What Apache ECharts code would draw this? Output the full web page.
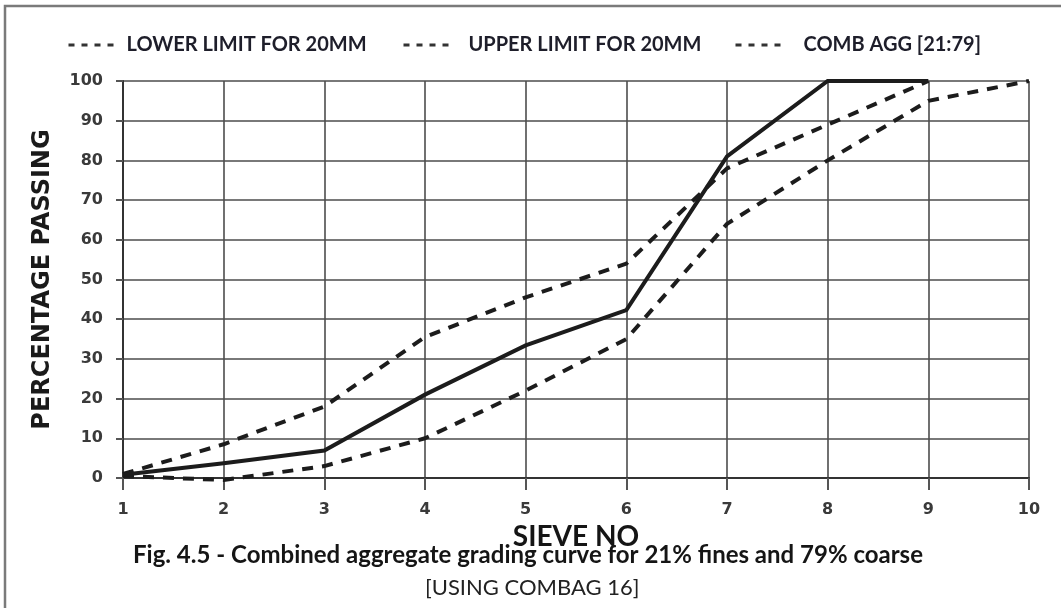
<!DOCTYPE html>
<html>
<head>
<meta charset="utf-8">
<title>Combined aggregate grading curve</title>
<script src="https://cdn.jsdelivr.net/npm/echarts@6/dist/echarts.min.js"></script>
<style>
  html, body { margin: 0; padding: 0; background: #ffffff; }
  #chart { width: 1061px; height: 608px; }
</style>
</head>
<body>
<div id="chart"></div>
<script>
// Sieve numbers along the x axis
const sieveNo = [1, 2, 3, 4, 5, 6, 7, 8, 9, 10];
// Percentage passing, lower grading limit for 20 mm aggregate
const lowerLimit = [0.5, -0.5, 3, 10, 22, 35, 64, 80, 95, 100];
// Percentage passing, upper grading limit for 20 mm aggregate (sieves 1..9)
const upperLimit = [1, 8.5, 18, 35.5, 45.5, 54, 78, 89, 100];
// Combined aggregate 21:79 (sieves 1..9)
const combAgg = [0.8, 3.7, 6.9, 21, 33.4, 42.3, 81, 100, 100];
// Axis ticks
const yTicks = { min: 0, max: 100, step: 10 };
const xTicks = { min: 1, max: 10, step: 1 };

const seriesNames = ['LOWER LIMIT FOR 20MM', 'UPPER LIMIT FOR 20MM', 'COMB AGG [21:79]'];

function pairs(values) {
  return values.map((v, i) => [sieveNo[i], v]);
}

const ink = '#1c1c1c';
const gridColor = '#4d4d4d';
const labelColor = '#3a3a3a';

// One legend block per series so each key sits at its own spot above the plot
function legendBlock(name, left, textGap) {
  return {
    left: left,
    top: 35,
    padding: 0,
    itemWidth: 46,
    itemHeight: 14,
    data: [name],
    lineStyle: { type: [6, 7], width: 3, color: '#333', cap: 'butt' },
    itemStyle: { opacity: 0 },
    textStyle: {
      fontFamily: 'Lato',
      fontWeight: 'bold',
      fontSize: 20,
      color: '#1e1e2a',
      padding: [0, 0, 0, textGap]
    }
  };
}

const chart = echarts.init(document.getElementById('chart'), null, { renderer: 'canvas' });

chart.setOption({
  animation: false,
  backgroundColor: '#ffffff',
  color: [ink, ink, ink],
  grid: { left: 123, right: 32, top: 81, bottom: 130, containLabel: false },
  legend: [
    legendBlock(seriesNames[0], 67, 7),
    legendBlock(seriesNames[1], 402, 14),
    legendBlock(seriesNames[2], 734, 17)
  ],
  xAxis: {
    type: 'value',
    min: xTicks.min,
    max: xTicks.max,
    interval: xTicks.step,
    name: 'SIEVE NO',
    nameLocation: 'middle',
    nameGap: 40,
    nameTextStyle: { fontFamily: 'Lato', fontWeight: 'bold', fontSize: 28, color: '#151515' },
    axisLine: { show: true, onZero: false, lineStyle: { color: '#333', width: 2 } },
    axisTick: { show: true, length: 12, lineStyle: { color: '#555', width: 2 } },
    axisLabel: {
      margin: 24,
      fontFamily: 'DejaVu Sans',
      fontWeight: 'bold',
      fontSize: 16,
      color: labelColor
    },
    splitLine: { show: true, lineStyle: { color: gridColor, width: 1.6 } }
  },
  yAxis: {
    type: 'value',
    min: yTicks.min,
    max: yTicks.max,
    interval: yTicks.step,
    name: 'PERCENTAGE PASSING',
    nameLocation: 'middle',
    nameGap: 68,
    nameRotate: 90,
    nameTextStyle: { fontFamily: 'DejaVu Sans', fontWeight: 'bold', fontSize: 24, color: '#1a1a1a' },
    axisLine: { show: true, lineStyle: { color: '#333', width: 2 } },
    axisTick: { show: true, length: 7, lineStyle: { color: '#555', width: 2 } },
    axisLabel: {
      margin: 20,
      fontFamily: 'DejaVu Sans',
      fontWeight: 'bold',
      fontSize: 16,
      color: labelColor
    },
    splitLine: { show: true, lineStyle: { color: gridColor, width: 1.6 } }
  },
  series: [
    {
      name: seriesNames[0],
      type: 'line',
      data: pairs(lowerLimit),
      symbol: 'none',
      clip: false,
      lineStyle: { color: ink, width: 4, type: [11, 9], cap: 'butt' },
      z: 3
    },
    {
      name: seriesNames[1],
      type: 'line',
      data: pairs(upperLimit),
      symbol: 'none',
      clip: false,
      lineStyle: { color: ink, width: 4, type: [11, 9], cap: 'butt' },
      z: 3
    },
    {
      name: seriesNames[2],
      type: 'line',
      data: pairs(combAgg),
      symbol: 'none',
      clip: false,
      lineStyle: { color: ink, width: 4, type: 'solid', join: 'miter' },
      z: 4
    }
  ],
  graphic: [
    {
      type: 'rect',
      shape: { x: 5, y: 6, width: 1100, height: 700 },
      style: { fill: 'none', stroke: '#7a7a7a', lineWidth: 2.5 },
      silent: true
    },
    {
      type: 'text',
      left: 133,
      top: 543,
      style: {
        text: 'Fig. 4.5 - Combined aggregate grading curve for 21% fines and 79% coarse',
        fontFamily: 'Lato',
        fontWeight: 'bold',
        fontSize: 24,
        fill: '#151515'
      }
    },
    {
      type: 'text',
      left: 425,
      top: 577,
      style: {
        text: '[USING COMBAG 16]',
        fontFamily: 'Lato',
        fontSize: 22,
        fill: '#222'
      }
    }
  ]
});
</script>
</body>
</html>
